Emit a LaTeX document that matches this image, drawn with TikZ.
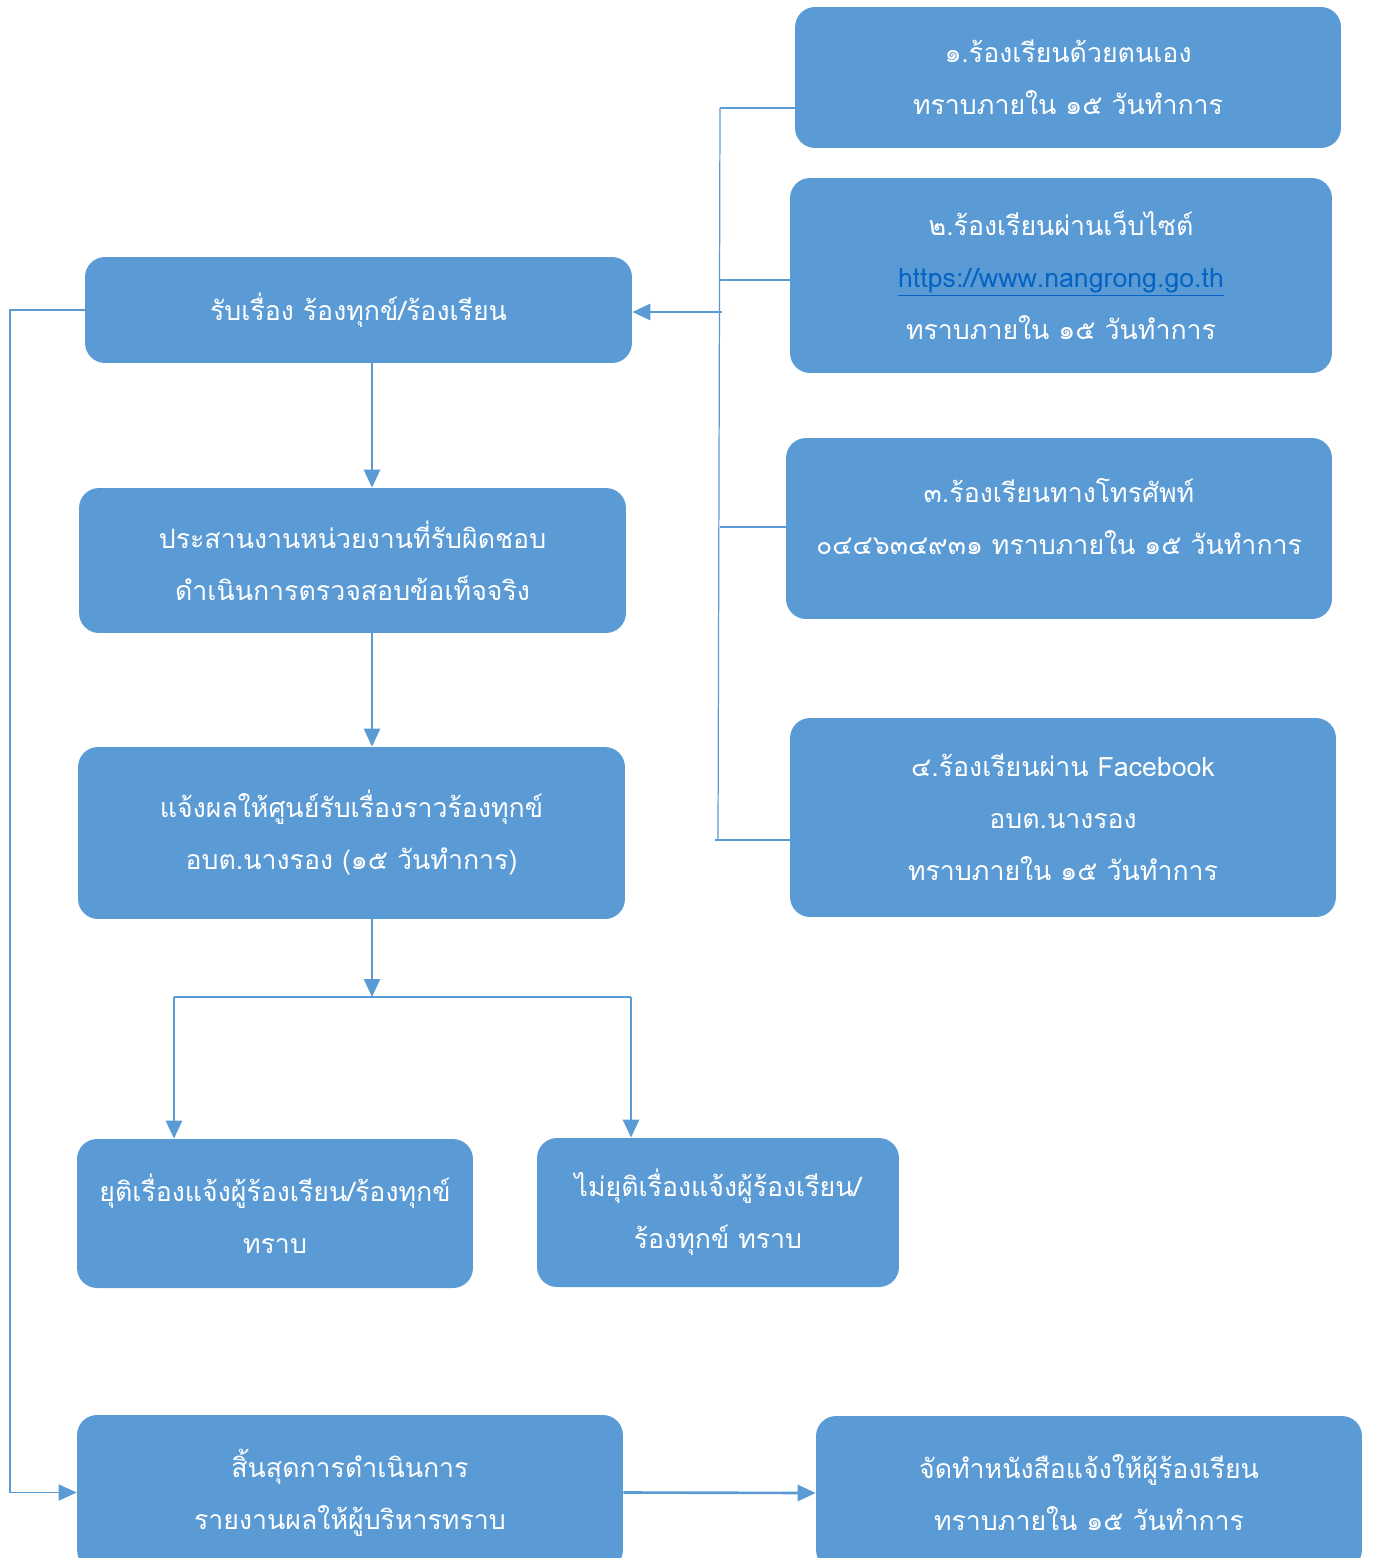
\documentclass[tikz,border=0pt]{standalone}
\usepackage{fontspec}
\usepackage{xcolor}
\usetikzlibrary{arrows.meta}
\newfontfamily\thaifont[Script=Thai]{Loma}
\definecolor{flowBlue}{HTML}{5B9BD5}
\definecolor{linkBlue}{HTML}{0563C1}

\tikzset{
  stepfont/.style={font=\thaifont\fontsize{15.2}{29.6}\selectfont},
  stepbox/.style={fill=flowBlue, rounded corners=0.4cm, text=white, align=center,
    stepfont, inner sep=0pt},
  flow/.style={draw=flowBlue, line width=1.5pt, -{Triangle[width=0.32cm,length=0.36cm]}},
  link/.style={draw=flowBlue, line width=0.7pt},
}

\begin{document}
\begin{tikzpicture}[x=0.02cm, y=-0.02cm]
\useasboundingbox (0,0) rectangle (1375,1558);

% Main steps
\node[stepbox, minimum width=10.94cm, minimum height=2.12cm] (recv) at (358.5,310) {รับเรื่อง ร้องทุกข์/ร้องเรียน};
\node[stepbox, minimum width=10.94cm, minimum height=2.9cm] (coord) at (352.5,560.5) {ประสานงานหน่วยงานที่รับผิดชอบ\\ดำเนินการตรวจสอบข้อเท็จจริง};
\node[stepbox, minimum width=10.94cm, minimum height=3.44cm] (report) at (351.5,833) {แจ้งผลให้ศูนย์รับเรื่องราวร้องทุกข์\\อบต.นางรอง (๑๕ วันทำการ)};
\node[stepbox, minimum width=7.92cm, minimum height=2.98cm] (done) at (275,1213.5) {ยุติเรื่องแจ้งผู้ร้องเรียน/ร้องทุกข์\\ทราบ};
\node[stepbox, minimum width=7.24cm, minimum height=2.98cm] (open) at (718,1212.5) {ไม่ยุติเรื่องแจ้งผู้ร้องเรียน/\\ร้องทุกข์ ทราบ};
\node[stepbox, minimum width=10.92cm, minimum height=3.1cm] (close) at (350,1492.5) {สิ้นสุดการดำเนินการ\\รายงานผลให้ผู้บริหารทราบ};
\node[stepbox, minimum width=10.92cm, minimum height=3.08cm] (letter) at (1089,1493) {จัดทำหนังสือแจ้งให้ผู้ร้องเรียน\\ทราบภายใน ๑๕ วันทำการ};

% Channels
\node[stepbox, minimum width=10.92cm, minimum height=2.82cm] (ch1) at (1068,77.5) {๑.ร้องเรียนด้วยตนเอง\\ทราบภายใน ๑๕ วันทำการ};
\node[stepbox, minimum width=10.84cm, minimum height=3.9cm] (ch2) at (1061,275.5) {๒.ร้องเรียนผ่านเว็บไซต์\\{\color{linkBlue}\underline{https://www.nangrong.go.th}}\\ทราบภายใน ๑๕ วันทำการ};
\node[stepbox, minimum width=10.92cm, minimum height=3.62cm,
  label={[text=white, stepfont, align=center, yshift=0.24cm]center:{๓.ร้องเรียนทางโทรศัพท์\\๐๔๔๖๓๔๙๓๑ ทราบภายใน ๑๕ วันทำการ}}] (ch3) at (1059,528.5) {};
\node[stepbox, minimum width=10.92cm, minimum height=3.98cm] (ch4) at (1063,817.5) {๔.ร้องเรียนผ่าน Facebook\\อบต.นางรอง\\ทราบภายใน ๑๕ วันทำการ};

% Bracket points
\coordinate (br1) at (720,108);
\coordinate (br2) at (720,280);
\coordinate (br3) at (720,527);
\coordinate (br4) at (718,840);
\coordinate (feed) at (722,312);
\coordinate (mid) at (372,0);
\coordinate (split) at (372,997);
\coordinate (splitL) at (174,997);
\coordinate (splitR) at (631,997);
\coordinate (loop) at (10,0);

% Channel bracket
\draw[link] (br1) -- (br4);
\draw[link] (br1) -- (br1 -| ch1.west);
\draw[link] (br2) -- (br2 -| ch2.west);
\draw[link] (br3) -- (br3 -| ch3.west);
\draw[link] ([xshift=-0.06cm]br4) -- (br4 -| ch4.west);
\draw[flow] (feed) -- (feed -| recv.east);

% Flow down
\draw[flow] (recv.south -| mid) -- (coord.north -| mid);
\draw[flow] (coord.south -| mid) -- (report.north -| mid);
\draw[flow] (report.south -| mid) -- (split);
\draw[link, line width=1pt] (splitL) -- (splitR);
\draw[flow] (splitL) -- (splitL |- done.north);
\draw[flow] (splitR) -- (splitR |- open.north);

% Loop back and end
\draw[flow, line width=0.9pt] (recv.west) -- (recv.west -| loop) -- (close.west -| loop) -- (close.west);
\draw[flow] (close.east) -- (letter.west);
\end{tikzpicture}
\end{document}
